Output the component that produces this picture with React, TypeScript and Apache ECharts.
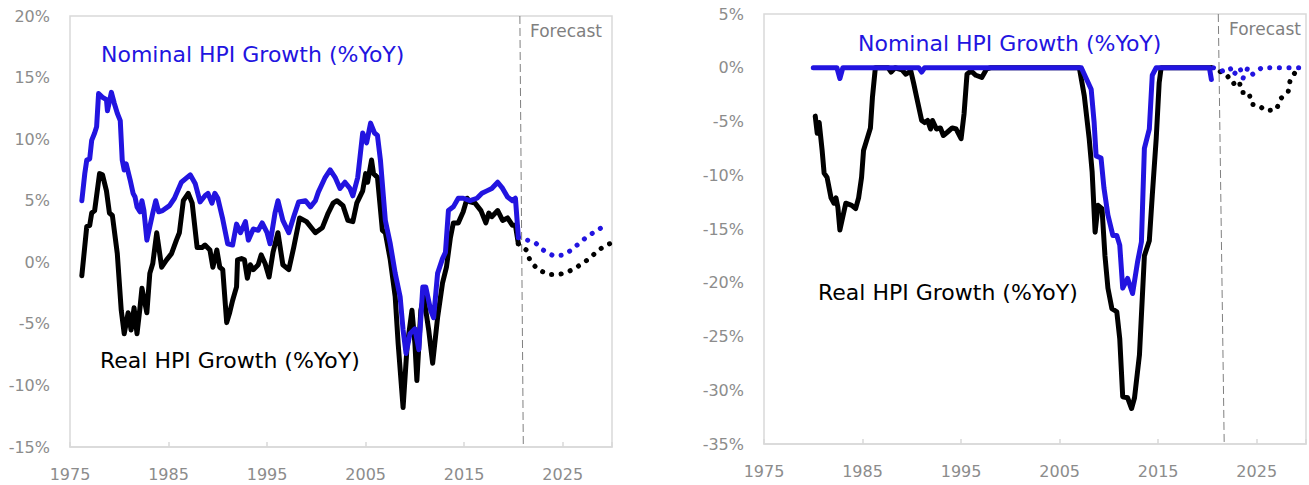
import React, { useEffect, useRef } from 'react';
import * as echarts from 'echarts';

// ---- Year-over-year growth (%), left panel ----
const nominalYoY: [number, number][] = [
  [1976.2, 5.0], [1976.5, 7.2], [1976.7, 8.3], [1977.0, 8.4], [1977.2, 9.9], [1977.5, 10.5], [1977.7, 11.0],
  [1977.9, 13.7], [1978.3, 13.4], [1978.7, 13.2], [1978.8, 12.3], [1979.2, 13.8], [1979.5, 12.9], [1979.8, 12.1],
  [1980.1, 11.5], [1980.3, 8.3], [1980.5, 7.5], [1980.7, 8.0], [1981.1, 6.7], [1981.4, 5.6], [1981.6, 5.3],
  [1981.8, 4.5], [1982.1, 4.1], [1982.3, 5.0], [1982.5, 4.2], [1982.8, 1.8], [1983.1, 2.9], [1983.4, 4.0],
  [1983.7, 5.0], [1984.0, 4.1], [1984.4, 4.2], [1985.1, 4.6], [1985.6, 5.2], [1986.3, 6.5], [1987.2, 7.1],
  [1987.7, 6.4], [1988.2, 4.9], [1988.7, 5.4], [1989.0, 5.6], [1989.4, 4.8], [1989.7, 5.6], [1990.0, 5.2],
  [1990.5, 3.5], [1991.0, 1.5], [1991.5, 1.4], [1991.9, 3.1], [1992.3, 2.4], [1992.8, 3.3], [1993.1, 1.8],
  [1993.6, 2.7], [1994.1, 2.6], [1994.5, 3.2], [1995.0, 2.4], [1995.3, 1.5], [1995.8, 4.0], [1996.1, 5.0],
  [1996.6, 3.4], [1997.2, 2.4], [1997.7, 3.7], [1998.2, 4.9], [1998.9, 5.0], [1999.4, 4.5], [1999.9, 5.0],
  [2000.2, 5.7], [2000.9, 6.9], [2001.4, 7.5], [2001.9, 6.9], [2002.4, 6.0], [2002.9, 6.5], [2003.4, 6.0],
  [2003.7, 5.4], [2004.2, 6.9], [2004.7, 10.5], [2005.1, 9.7], [2005.5, 11.3], [2005.9, 10.5], [2006.2, 10.3],
  [2006.5, 8.3], [2007.0, 3.4], [2007.5, 1.5], [2008.0, -0.9], [2008.5, -2.8], [2008.8, -5.5], [2009.1, -7.4],
  [2009.5, -5.8], [2010.0, -5.4], [2010.4, -7.1], [2010.8, -2.0], [2011.1, -2.0], [2011.6, -3.9], [2011.9, -4.5],
  [2012.3, -0.9], [2012.8, 0.3], [2013.1, 0.8], [2013.4, 4.2], [2013.9, 4.5], [2014.4, 5.2], [2014.9, 5.2],
  [2015.6, 5.0], [2016.3, 5.2], [2016.8, 5.6], [2017.3, 5.8], [2017.8, 6.0], [2018.4, 6.5], [2018.9, 6.0],
  [2019.4, 5.3], [2019.9, 5.0], [2020.2, 5.2], [2020.5, 2.0],
];

const realYoY: [number, number][] = [
  [1976.2, -1.1], [1976.7, 2.9], [1977.0, 3.0], [1977.2, 4.0], [1977.5, 4.2], [1978.0, 7.2], [1978.3, 7.1],
  [1978.7, 5.8], [1979.0, 4.0], [1979.3, 3.8], [1979.8, 0.7], [1980.2, -3.9], [1980.5, -5.8], [1980.9, -4.1],
  [1981.2, -5.5], [1981.5, -3.7], [1981.8, -5.8], [1982.1, -3.7], [1982.3, -2.1], [1982.8, -4.1], [1983.1, -0.9],
  [1983.4, -0.1], [1983.8, 2.4], [1984.3, -0.4], [1984.8, 0.2], [1985.3, 0.7], [1985.8, 1.8], [1986.1, 2.4],
  [1986.5, 5.0], [1987.0, 5.6], [1987.4, 4.8], [1987.9, 1.2], [1988.4, 1.2], [1988.7, 1.4], [1989.2, 1.0],
  [1989.5, -0.4], [1989.9, 1.0], [1990.2, -0.4], [1990.5, -0.6], [1990.9, -4.9], [1991.2, -4.1], [1991.5, -3.1],
  [1991.9, -2.0], [1992.0, 0.2], [1992.4, 0.3], [1992.7, 0.2], [1993.0, -1.3], [1993.3, -0.2], [1993.6, -0.6],
  [1994.1, -0.2], [1994.4, 0.6], [1994.8, -0.1], [1995.2, -1.2], [1995.6, 0.8], [1996.1, 2.4], [1996.6, -0.2],
  [1997.2, -0.6], [1997.7, 1.2], [1998.3, 3.6], [1999.0, 3.3], [1999.9, 2.4], [2000.6, 2.8], [2001.2, 4.0],
  [2001.7, 4.8], [2002.1, 5.0], [2002.7, 4.6], [2003.2, 3.4], [2003.7, 3.3], [2004.1, 4.8], [2004.7, 5.8],
  [2005.0, 7.2], [2005.2, 6.5], [2005.6, 8.3], [2005.8, 7.2], [2006.2, 6.9], [2006.7, 2.6], [2007.0, 2.4],
  [2007.5, 0.2], [2008.0, -2.8], [2008.3, -6.6], [2008.8, -11.8], [2009.2, -6.9], [2009.7, -3.9], [2010.0, -6.6],
  [2010.2, -9.6], [2010.6, -3.9], [2010.9, -2.8], [2011.4, -5.5], [2011.8, -8.2], [2012.3, -4.5], [2012.8, -1.7],
  [2013.2, -0.4], [2013.6, 2.0], [2013.9, 3.2], [2014.4, 3.2], [2014.9, 4.1], [2015.3, 5.2], [2015.6, 4.9],
  [2016.1, 4.8], [2016.7, 4.2], [2017.2, 3.2], [2017.5, 4.0], [2017.8, 3.7], [2018.4, 4.2], [2018.9, 3.4],
  [2019.4, 3.6], [2019.9, 3.0], [2020.2, 3.0], [2020.5, 1.5],
];

const nominalYoYForecast: [number, number][] = [
  [2020.5, 2.0], [2021.4, 1.8], [2022.2, 1.6], [2023.0, 1.0], [2024.1, 0.5], [2025.1, 0.6], [2025.9, 1.0],
  [2026.6, 1.5], [2027.5, 2.1], [2028.5, 2.6], [2029.5, 3.1],
];

const realYoYForecast: [number, number][] = [
  [2020.5, 1.5], [2021.3, 1.0], [2021.7, 0.1], [2022.5, -0.6], [2023.6, -1.0], [2024.6, -1.0], [2025.5, -0.8],
  [2026.4, -0.4], [2027.2, 0.0], [2028.1, 0.6], [2029.0, 1.2], [2030.0, 1.6],
];

// ---- Drawdown from prior peak (%), right panel ----
const nominalDrawdown: [number, number][] = [
  [1980.0, 0], [1982.4, 0], [1982.7, -1.0], [1983.0, 0], [1990.7, 0], [1991.0, -0.4], [1991.3, 0],
  [2007.2, 0], [2007.7, -1.0], [2008.2, -2.0], [2008.5, -5.1], [2008.7, -8.2], [2009.2, -8.4], [2009.5, -11.2],
  [2009.9, -13.7], [2010.4, -15.6], [2010.8, -15.6], [2011.1, -16.5], [2011.4, -20.5], [2011.9, -19.6],
  [2012.4, -21.0], [2012.9, -18.1], [2013.3, -16.2], [2013.6, -7.5], [2014.1, -5.7], [2014.4, -0.7],
  [2014.8, 0], [2020.2, 0], [2020.4, -1.1],
];

const realDrawdown: [number, number][] = [
  [1980.2, -4.5], [1980.4, -6.1], [1980.6, -5.1], [1980.9, -7.7], [1981.1, -9.8], [1981.4, -10.2],
  [1981.8, -12.1], [1982.1, -12.6], [1982.3, -12.1], [1982.5, -13.0], [1982.7, -15.1], [1983.3, -12.6],
  [1983.9, -12.8], [1984.3, -13.1], [1984.6, -12.1], [1984.9, -10.2], [1985.1, -7.7], [1985.5, -6.5],
  [1985.8, -5.6], [1986.0, -2.8], [1986.3, 0], [1987.6, 0], [1987.9, -0.4], [1988.3, 0], [1989.0, -0.2],
  [1989.4, -0.6], [1989.9, -0.3], [1990.2, -1.5], [1990.5, -2.8], [1991.0, -4.9], [1991.3, -5.1],
  [1991.6, -4.9], [1991.9, -5.7], [1992.1, -4.9], [1992.5, -5.7], [1992.9, -5.6], [1993.2, -6.3],
  [1993.6, -6.0], [1994.1, -5.6], [1994.5, -5.7], [1995.0, -6.6], [1995.3, -4.3], [1995.6, -0.6],
  [1996.0, -0.3], [1996.5, -0.7], [1997.1, -0.9], [1997.6, -0.1], [1998.0, 0], [2007.0, 0], [2007.5, -2.6],
  [2008.0, -6.6], [2008.3, -9.7], [2008.6, -15.3], [2008.9, -12.8], [2009.3, -13.1], [2009.6, -17.5],
  [2009.9, -20.5], [2010.3, -22.4], [2010.8, -22.7], [2011.1, -25.2], [2011.4, -30.6], [2011.9, -30.7],
  [2012.3, -31.7], [2012.6, -30.7], [2013.1, -26.7], [2013.6, -17.5], [2014.1, -16.1], [2014.4, -11.9],
  [2014.8, -6.6], [2015.1, -1.4], [2015.3, 0], [2020.4, 0],
];

const nominalDrawdownForecast: [number, number][] = [
  [2020.6, 0], [2021.5, -0.3], [2022.3, 0], [2022.6, -0.7], [2023.3, 0], [2023.6, -1.0], [2024.1, 0],
  [2024.6, -0.6], [2025.5, 0], [2030.0, 0],
];

const realDrawdownForecast: [number, number][] = [
  [2020.4, 0], [2021.4, -0.4], [2021.9, -0.6], [2022.6, -1.5], [2023.2, -1.2], [2023.5, -2.3], [2024.2, -2.3],
  [2024.5, -3.4], [2025.2, -3.5], [2025.9, -4.0], [2027.0, -3.9], [2027.4, -2.9], [2028.2, -2.2],
  [2028.4, -1.1], [2029.0, -0.3], [2029.5, 0],
];

// Axis ranges and the forecast boundary (slightly slanted divider: top and bottom year)
const xMin = 1975;
const xMax = 2030;
const xStep = 10;
const leftYRange = [-15, 20];
const rightYRange = [-35, 5];
const leftForecastDivider = [2020.65, 2021.0];
const rightForecastDivider = [2021.1, 2021.7];

const BLUE = '#2214e0';
const BLACK = '#000000';
const GRAY_TEXT = '#8c8c8c';
const BORDER = '#d9d9d9';
const FONT = 'DejaVu Sans';

const yearLabel = (v: number) => ((v - xMin) % xStep === 0 ? String(v) : '');

function labelAxisX(gridIndex: number) {
  return {
    gridIndex,
    type: 'value',
    position: 'bottom',
    min: xMin,
    max: xMax,
    interval: xStep,
    axisLine: { show: false },
    axisTick: { show: false },
    splitLine: { show: false },
    axisLabel: { formatter: yearLabel, color: GRAY_TEXT, fontSize: 16, fontFamily: FONT, margin: 19 },
  };
}

function zeroAxisX(gridIndex: number) {
  return {
    gridIndex,
    type: 'value',
    position: 'bottom',
    min: xMin,
    max: xMax,
    interval: xStep,
    axisLine: { show: true, onZero: true, lineStyle: { color: BORDER, width: 1.5 } },
    axisTick: { show: true, inside: true, length: 5, lineStyle: { color: BORDER, width: 1.5 } },
    splitLine: { show: false },
    axisLabel: { show: false },
  };
}

function valueAxisY(gridIndex: number, range: number[]) {
  return {
    gridIndex,
    type: 'value',
    min: range[0],
    max: range[1],
    interval: 5,
    axisLine: { show: false },
    axisTick: { show: false },
    splitLine: { show: false },
    axisLabel: { formatter: '{value}%', color: GRAY_TEXT, fontSize: 16, fontFamily: FONT, margin: 20 },
  };
}

function solid(data: [number, number][], color: string, xi: number, yi: number, z: number, extra: any = {}) {
  return {
    type: 'line',
    xAxisIndex: xi,
    yAxisIndex: yi,
    data,
    showSymbol: false,
    symbol: 'none',
    z,
    emphasis: { disabled: true },
    lineStyle: { color, width: 5, join: 'round', cap: 'round' },
    ...extra,
  };
}

function dotted(data: [number, number][], color: string, xi: number, yi: number, z: number) {
  return {
    type: 'line',
    xAxisIndex: xi,
    yAxisIndex: yi,
    data,
    showSymbol: false,
    symbol: 'none',
    z,
    emphasis: { disabled: true },
    lineStyle: { color, width: 5, type: [0.1, 9.5], cap: 'round', join: 'round' },
  };
}

function divider(years: number[], range: number[]) {
  return {
    silent: true,
    symbol: ['none', 'none'],
    label: { show: false },
    lineStyle: { color: '#808080', width: 1, type: [8, 4] },
    emphasis: { disabled: true },
    data: [[{ coord: [years[0], range[1]] }, { coord: [years[1], range[0]] }]],
  };
}

function label(text: string, x: number, y: number, color: string, size: number) {
  return {
    type: 'text',
    x,
    y,
    silent: true,
    style: {
      text,
      fill: color,
      fontSize: size,
      fontFamily: FONT,
      align: 'left',
      verticalAlign: 'middle',
      textAlign: 'left',
      textVerticalAlign: 'middle',
    },
  };
}

const option: any = {
  animation: false,
  backgroundColor: '#ffffff',
  grid: [
    { left: 70, top: 16, width: 542, height: 431, show: true, borderColor: BORDER, borderWidth: 1.5, containLabel: false },
    { left: 764, top: 14, width: 542, height: 430, show: true, borderColor: BORDER, borderWidth: 1.5, containLabel: false },
  ],
  xAxis: [labelAxisX(0), zeroAxisX(0), labelAxisX(1), zeroAxisX(1)],
  yAxis: [valueAxisY(0, leftYRange), valueAxisY(1, rightYRange)],
  series: [
    solid(realYoY, BLACK, 0, 0, 3, { markLine: divider(leftForecastDivider, leftYRange) }),
    solid(nominalYoY, BLUE, 0, 0, 4),
    dotted(realYoYForecast, BLACK, 0, 0, 3),
    dotted(nominalYoYForecast, BLUE, 0, 0, 4),
    solid(realDrawdown, BLACK, 2, 1, 3, { markLine: divider(rightForecastDivider, rightYRange) }),
    solid(nominalDrawdown, BLUE, 2, 1, 4),
    dotted(realDrawdownForecast, BLACK, 2, 1, 3),
    dotted(nominalDrawdownForecast, BLUE, 2, 1, 4),
  ],
  graphic: [
    label('Nominal HPI Growth (%YoY)', 101, 54, BLUE, 22),
    label('Real HPI Growth (%YoY)', 100, 360, BLACK, 22),
    label('Forecast', 530, 31, '#7f7f7f', 17),
    label('Nominal HPI Growth (%YoY)', 858, 43, BLUE, 22),
    label('Real HPI Growth (%YoY)', 818, 292, BLACK, 22),
    label('Forecast', 1229, 29, '#7f7f7f', 17),
  ],
};

export default function App() {
  const ref = useRef<HTMLDivElement>(null);
  useEffect(() => {
    if (!ref.current) return;
    const chart = echarts.init(ref.current, null, { renderer: 'svg' });
    chart.setOption(option);
    return () => chart.dispose();
  }, []);
  return (
    <div
      ref={ref}
      style={{ position: 'fixed', left: 0, top: 0, width: 1309, height: 485, background: '#ffffff' }}
    />
  );
}
